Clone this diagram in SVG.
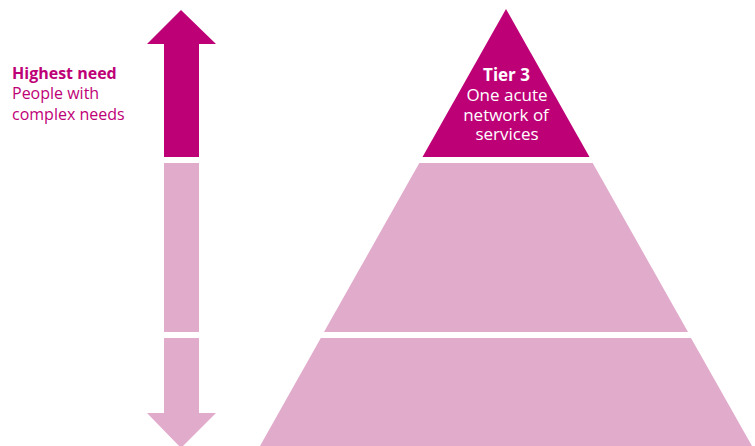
<svg xmlns="http://www.w3.org/2000/svg" width="755" height="446" viewBox="0 0 755 446">
  <style>
    .dark { fill: #BE0077; }
    .light { fill: #E1ABCC; }
    .lbl { font-family: "Open Sans", "Liberation Sans", sans-serif; font-size: 16px; fill: #BE0077; }
    .tier { font-family: "Open Sans", "Liberation Sans", sans-serif; font-size: 17px; fill: #FFFFFF; text-anchor: middle; }
    .b { font-weight: bold; }
  </style>
  <rect width="755" height="446" fill="#FFFFFF"/>
  <g id="need-arrow">
    <g id="arrow-top">
      <polygon class="dark" points="181,10 216,44 199,44 199,157 164,157 164,44 147,44"/>
    </g>
    <g id="arrow-middle">
      <rect class="light" x="164" y="163" width="35" height="169"/>
    </g>
    <g id="arrow-bottom">
      <polygon class="light" points="164,338 199,338 199,413 216,413 181,448 147,413 164,413"/>
    </g>
  </g>
  <g id="need-label">
    <text class="lbl b" x="12" y="78.5">Highest need</text>
    <text class="lbl" x="12" y="99">People with</text>
    <text class="lbl" x="12" y="119.5">complex needs</text>
  </g>
  <g id="tier3">
    <polygon class="dark" points="506,9 589.5,157 422.5,157"/>
    <text class="tier b" x="506.5" y="81">Tier 3</text>
    <text class="tier" x="507" y="101">One acute</text>
    <text class="tier" x="506" y="121">network of</text>
    <text class="tier" x="507" y="140">services</text>
  </g>
  <g id="tier2">
    <polygon class="light" points="419.3,163 592.7,163 688,332 324,332"/>
  </g>
  <g id="tier1">
    <polygon class="light" points="320.8,338 691,338 752,446 260,446"/>
  </g>
  <g id="connectors"/>
</svg>
